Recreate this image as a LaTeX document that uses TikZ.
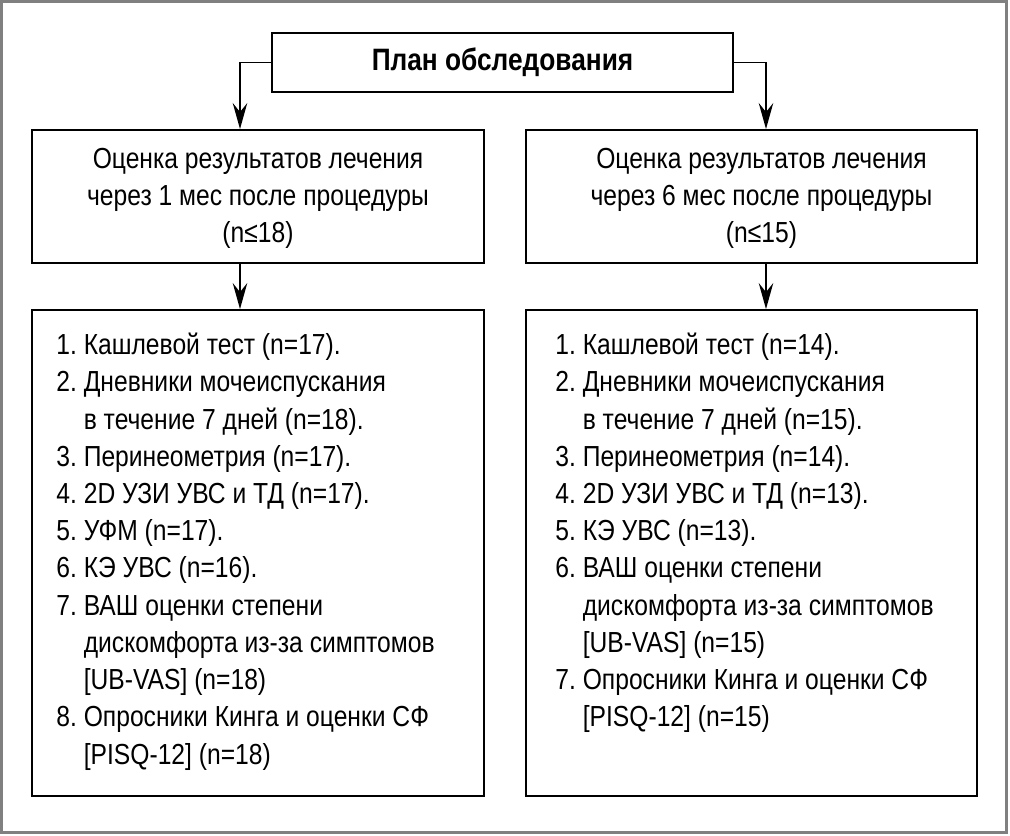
\documentclass[tikz,border=0pt]{standalone}
\usepackage{fontspec}
\setmainfont{Liberation Sans}[FakeStretch=0.85]
\usetikzlibrary{arrows.meta, positioning, calc}
\definecolor{grisMarco}{HTML}{808080}

\begin{document}
\begin{tikzpicture}[x=0.02cm, y=-0.02cm,
        caja/.style={draw=black, line width=1.1pt, minimum width=9.04cm, inner sep=0pt},
        txt/.style={font=\fontsize{16.5}{21.2}\selectfont, align=center, inner sep=0pt},
        lista/.style={font=\fontsize{16.5}{21.2}\selectfont, anchor=north west, inner sep=0pt},
        flecha/.style={-{Stealth[length=5.2mm, width=2.9mm, inset=1.8mm]}, line width=1.1pt}
    ]
        \useasboundingbox (0,0) rectangle (1010,835);
        \draw[grisMarco, line width=1.7pt] (1.5,1.5) rectangle (1006.5,832.5);

        % titulo
        \node[caja, minimum width=9.22cm, minimum height=1.18cm, font=\fontsize{17.6}{20}\selectfont\bfseries] (plan) at (502.5,62.5) {План обследования};

        % bloques superiores
        \node[caja, minimum height=2.66cm] (mes1) at (258,196.5) {};
        \node[caja, minimum width=9.02cm, minimum height=2.66cm] (mes6) at (751.5,196.5) {};
        \node[txt] at ([yshift=-0.04cm]mes1.center) {Оценка результатов лечения\\через 1 мес после процедуры\\(n≤18)};
        \node[txt] at ([xshift=0.2cm, yshift=-0.04cm]mes6.center) {Оценка результатов лечения\\через 6 мес после процедуры\\(n≤15)};

        % bloques inferiores
        \node[caja, minimum height=9.72cm] (lst1) at (258,553) {};
        \node[caja, minimum width=9.02cm, minimum height=9.72cm] (lst6) at (751.5,553) {};

        \node[lista] (items1) at ([xshift=0.5cm, yshift=-0.38cm]lst1.north west) {%
            \begin{tabular}{@{}r@{\ }l@{}}
                1. & Кашлевой тест (n=17).\\
                2. & Дневники мочеиспускания\\
                   & в течение 7 дней (n=18).\\
                3. & Перинеометрия (n=17).\\
                4. & 2D УЗИ УВС и ТД (n=17).\\
                5. & УФМ (n=17).\\
                6. & КЭ УВС (n=16).\\
                7. & ВАШ оценки степени\\
                   & дискомфорта из-за симптомов\\
                   & [UB-VAS] (n=18)\\
                8. & Опросники Кинга и оценки СФ\\
                   & [PISQ-12] (n=18)
            \end{tabular}};
        \node[lista] (items6) at ([xshift=0.6cm, yshift=-0.38cm]lst6.north west) {%
            \begin{tabular}{@{}r@{\ }l@{}}
                1. & Кашлевой тест (n=14).\\
                2. & Дневники мочеиспускания\\
                   & в течение 7 дней (n=15).\\
                3. & Перинеометрия (n=14).\\
                4. & 2D УЗИ УВС и ТД (n=13).\\
                5. & КЭ УВС (n=13).\\
                6. & ВАШ оценки степени\\
                   & дискомфорта из-за симптомов\\
                   & [UB-VAS] (n=15)\\
                7. & Опросники Кинга и оценки СФ\\
                   & [PISQ-12] (n=15)
            \end{tabular}};

        % flechas
        \draw[flecha] (plan.west) -| ([xshift=-0.36cm]mes1.north);
        \draw[flecha] (plan.east) -| ([xshift=0.29cm]mes6.north);
        \draw[flecha] ([xshift=-0.36cm]mes1.south) -- ([xshift=-0.36cm]lst1.north);
        \draw[flecha] ([xshift=0.29cm]mes6.south) -- ([xshift=0.29cm]lst6.north);
    \end{tikzpicture}
\end{document}
